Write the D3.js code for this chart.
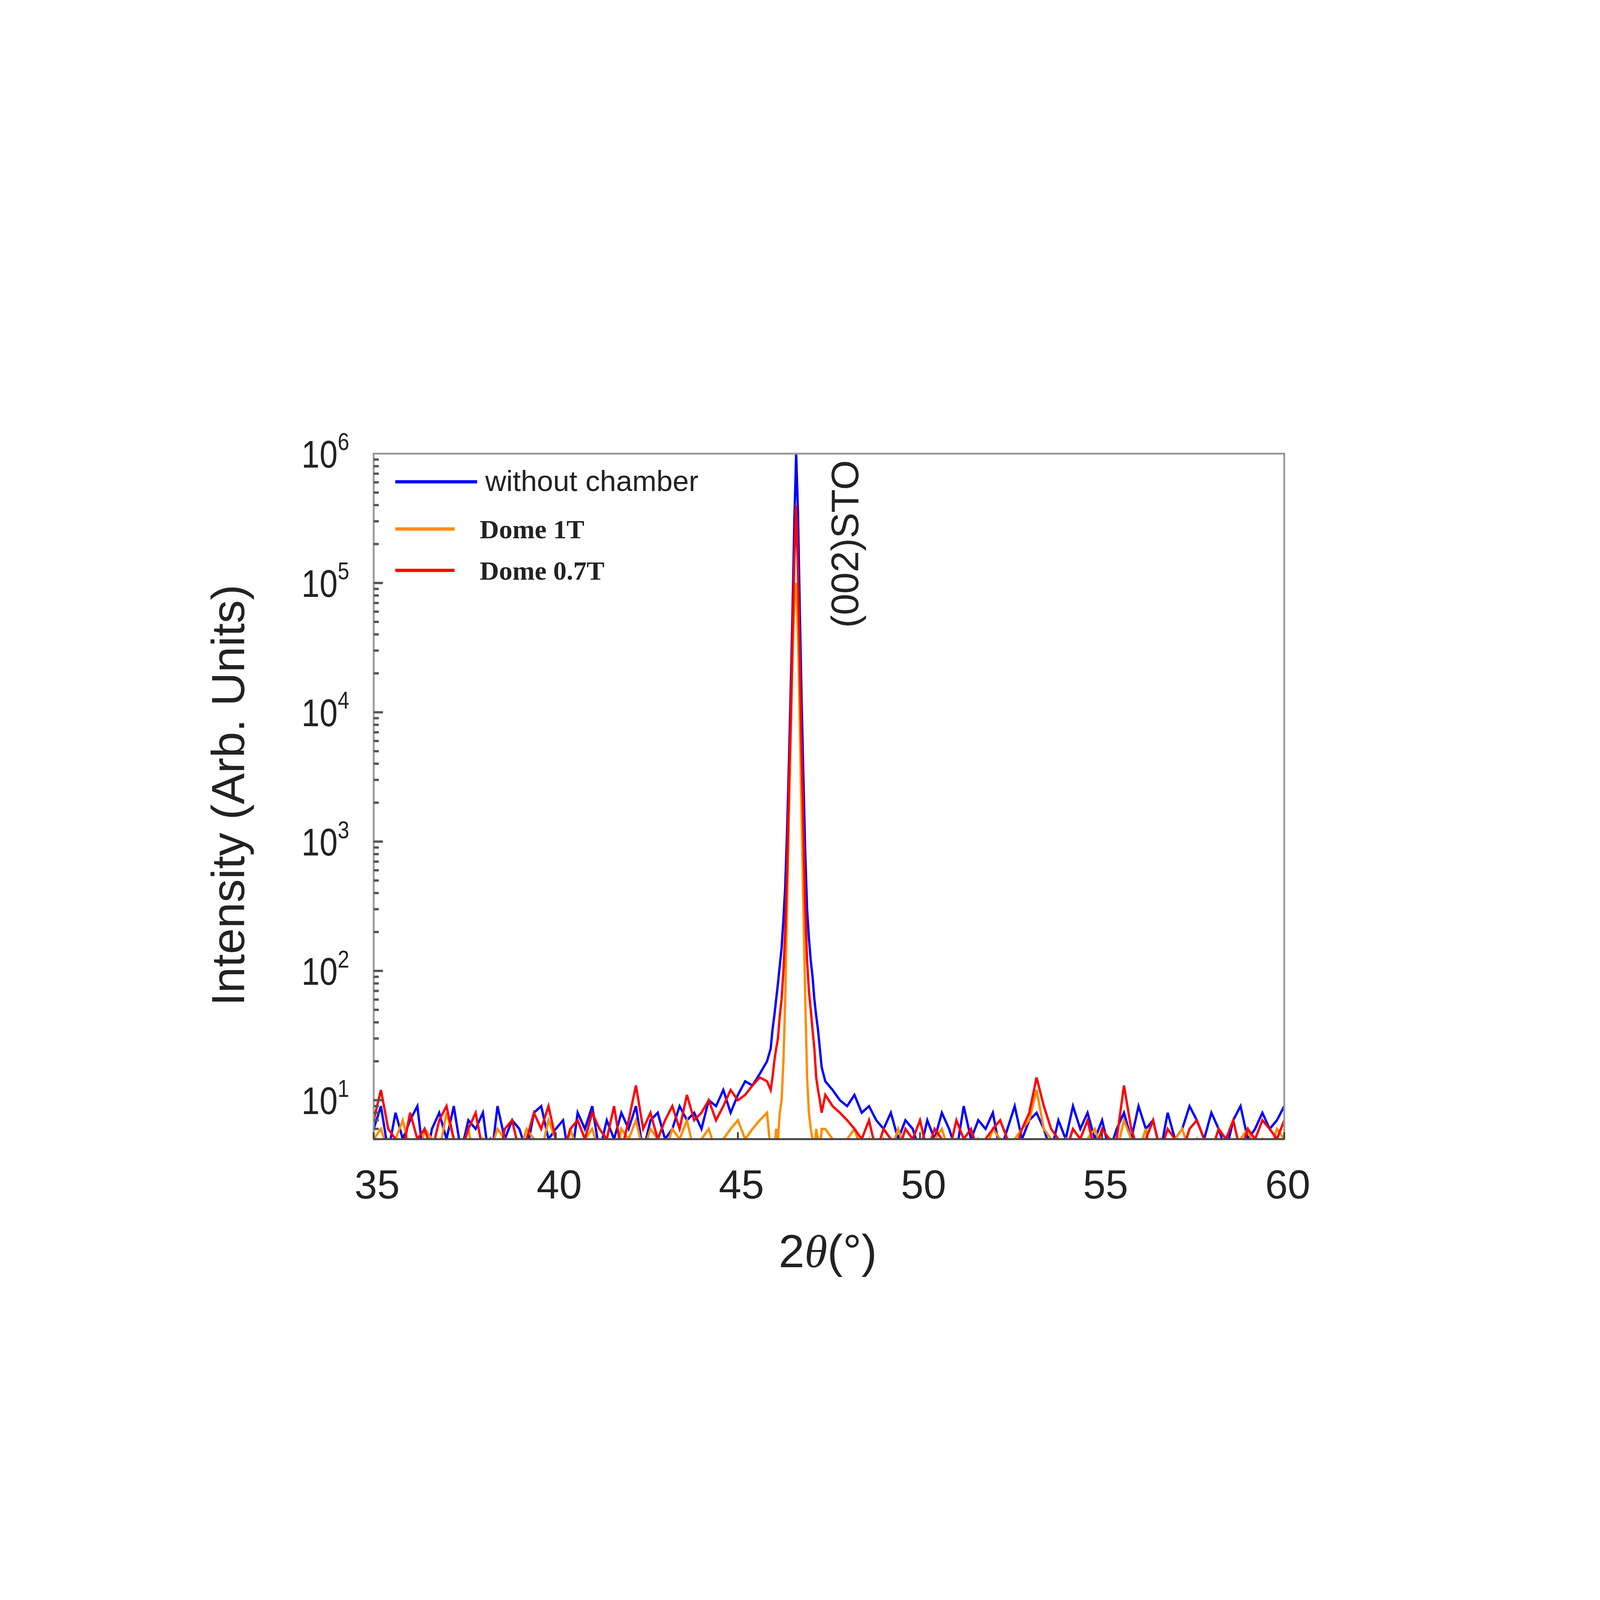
<!DOCTYPE html>
<html><head><meta charset="utf-8">
<script src="https://cdn.jsdelivr.net/npm/d3@7"></script>
<style>html,body{margin:0;padding:0;background:#fff;overflow:hidden}svg{display:block;width:100vw;height:100vh}</style></head>
<body><svg id="c" viewBox="0 0 6881 4381" preserveAspectRatio="xMidYMid meet"></svg>
<script>
const xLeft = d3.range(0,55).map(i=>+(35+i*0.2).toFixed(2));
const xPeak = d3.range(0,29).map(i=>+(45.9+i*0.05).toFixed(2));
const xRight = d3.range(0,64).map(i=>+(47.4+i*0.2).toFixed(2));
const blueLeft=[6,9,4,8,5,7,9,3,6,8,5,9,4,7,6,8,3,9,5,7,6,4,8,9,5,6,7,3,8,6,9,4,7,5,8,6,9,4,7,8,5,6,9,7,8,6,10,9,12,8,11,14,13,16,20];
const bluePeak=[25,35,45,60,80,110,150,250,450,1200,4000,15000,60000,300000,1000000,350000,60000,12000,3000,800,300,180,120,90,60,45,35,25,18];
const blueRight=[14,12,10,9,11,8,9,7,6,8,5,7,6,4,7,5,8,6,4,9,5,7,6,8,4,6,9,5,7,8,6,4,7,5,9,6,8,5,7,4,6,8,5,9,6,7,4,8,5,6,9,7,5,8,6,4,7,9,5,6,8,6,7,9];
const orangeLeft=[5,6,4,5,7,4,3,6,5,4,8,5,4,6,3,5,4,6,5,3,4,6,5,4,7,5,3,6,4,5,6,4,5,3,6,5,7,4,6,5,4,6,5,7,4,5,6,4,5,6,7,5,6,7,8];
const orangePeak=[4,5,4,6,5,8,10,20,60,300,1500,6000,25000,70000,100000,40000,8000,1500,300,60,15,8,6,5,4,6,5,4,6];
const orangeRight=[6,5,4,5,6,4,5,3,5,4,6,4,5,3,4,5,6,4,5,4,3,5,4,6,5,4,5,6,7,12,6,5,4,5,3,4,5,6,4,5,4,7,5,4,6,3,5,4,5,6,4,5,3,4,6,5,4,5,6,4,5,4,6,5];
const redLeft=[7,12,6,5,4,8,5,6,4,7,9,5,4,6,8,4,5,3,6,7,4,5,8,6,9,5,4,6,7,5,8,6,5,9,4,7,13,6,8,5,7,9,6,11,7,8,10,7,9,12,10,11,13,15,14];
const redPeak=[12,15,20,25,30,45,60,100,200,600,2500,9000,40000,150000,400000,120000,25000,5000,1200,300,120,70,50,35,25,15,12,10,8];
const redRight=[11,9,8,7,6,5,7,4,6,5,4,6,5,7,4,6,5,4,7,5,6,4,5,6,7,5,4,6,8,15,9,6,5,4,6,5,7,4,6,5,5,13,6,4,5,7,4,6,5,4,6,7,5,4,6,5,7,4,6,5,7,6,5,7];
const seriesNames=["without chamber","Dome 1T","Dome 0.7T"];
const seriesColors=["#0000ff","#ff8c00","#ff0000"];
const xTicks=[35,40,45,50,55,60];
const yTicks=[1,2,3,4,5,6];

const svg=d3.select("#c");
const L=1607,T=701,W=3916,H=2948;
const x=d3.scaleLinear().domain([35,60]).range([L,L+W]);
const y=d3.scaleLog().domain([5,1e6]).range([T+H,T]);
const xs=xLeft.concat(xPeak,xRight);
const data=[blueLeft.concat(bluePeak,blueRight),orangeLeft.concat(orangePeak,orangeRight),redLeft.concat(redPeak,redRight)];
svg.append("clipPath").attr("id","clp").append("rect").attr("x",L).attr("y",T-40).attr("width",W).attr("height",H+40);
const line=d3.line().x(d=>x(d[0])).y(d=>y(Math.max(d[1],2)));
const g=svg.append("g").attr("clip-path","url(#clp)");
[0,1,2].forEach(k=>{
  g.append("path").datum(xs.map((v,i)=>[v,data[k][i]])).attr("d",line)
   .attr("fill","none").attr("stroke",seriesColors[k]).attr("stroke-width",10);
});
svg.append("rect").attr("x",L).attr("y",T).attr("width",W).attr("height",H).attr("fill","none").attr("stroke","#999").attr("stroke-width",8);
svg.append("line").attr("x1",L).attr("x2",L+W).attr("y1",T+H).attr("y2",T+H).attr("stroke","#444").attr("stroke-width",8);
const ax=svg.append("g");
for(let e=0;e<6;e++){for(let m=1;m<10;m++){const v=m*Math.pow(10,e);if(v<5||v>1e6)continue;
  ax.append("line").attr("x1",L).attr("x2",L+(m===1?40:22)).attr("y1",y(v)).attr("y2",y(v)).attr("stroke","#555").attr("stroke-width",10);}}
const font="'Liberation Sans',Arial,sans-serif";
yTicks.forEach(e=>{
  const t=ax.append("text").attr("x",L-105).attr("y",y(Math.pow(10,e))+60).attr("text-anchor","end")
    .attr("font-family",font).attr("font-size",165).attr("fill","#222").attr("transform",`translate(${L-105},0) scale(0.85,1) translate(${-(L-105)},0)`);
  t.append("tspan").text("10");
  t.append("tspan").attr("dy",-75).attr("font-size",105).text(e);
});
xTicks.forEach(v=>{
  ax.append("line").attr("x1",x(v)).attr("x2",x(v)).attr("y1",T+H).attr("y2",T+H-30).attr("stroke","#444").attr("stroke-width",8);
  ax.append("text").attr("x",x(v)+15).attr("y",T+H+255).attr("text-anchor","middle").attr("font-family",font).attr("font-size",175).attr("fill","#222").text(v);
});
const xt=svg.append("text").attr("x",3560).attr("y",4200).attr("text-anchor","middle").attr("font-family",font).attr("font-size",200).attr("fill","#222");
xt.append("tspan").text("2");
xt.append("tspan").attr("font-style","italic").attr("font-family","'Liberation Serif',serif").text("θ");
xt.append("tspan").text("(°)");
svg.append("text").attr("transform","translate(1050,2170) rotate(-90)").attr("text-anchor","middle").attr("font-family",font).attr("font-size",200).attr("fill","#222").text("Intensity (Arb. Units)");
svg.append("text").attr("transform","translate(3690,1450) rotate(-90)").attr("font-family",font).attr("font-size",165).attr("fill","#222").text("(002)STO");
const leg=[{y:822,x2:2052,tx:2087,fam:font,w:"normal"},{y:1025,x2:1955,tx:2063,fam:"'Liberation Serif',serif",w:"bold"},{y:1203,x2:1955,tx:2063,fam:"'Liberation Serif',serif",w:"bold"}];
leg.forEach((l,i)=>{
  svg.append("line").attr("x1",1700).attr("x2",l.x2).attr("y1",l.y).attr("y2",l.y).attr("stroke",seriesColors[i]).attr("stroke-width",14);
  svg.append("text").attr("x",l.tx).attr("y",l.y+40).attr("font-family",l.fam).attr("font-weight",l.w).attr("font-size",l.w==="bold"?115:125).attr("fill","#222").text(seriesNames[i]);
});
</script></body></html>
